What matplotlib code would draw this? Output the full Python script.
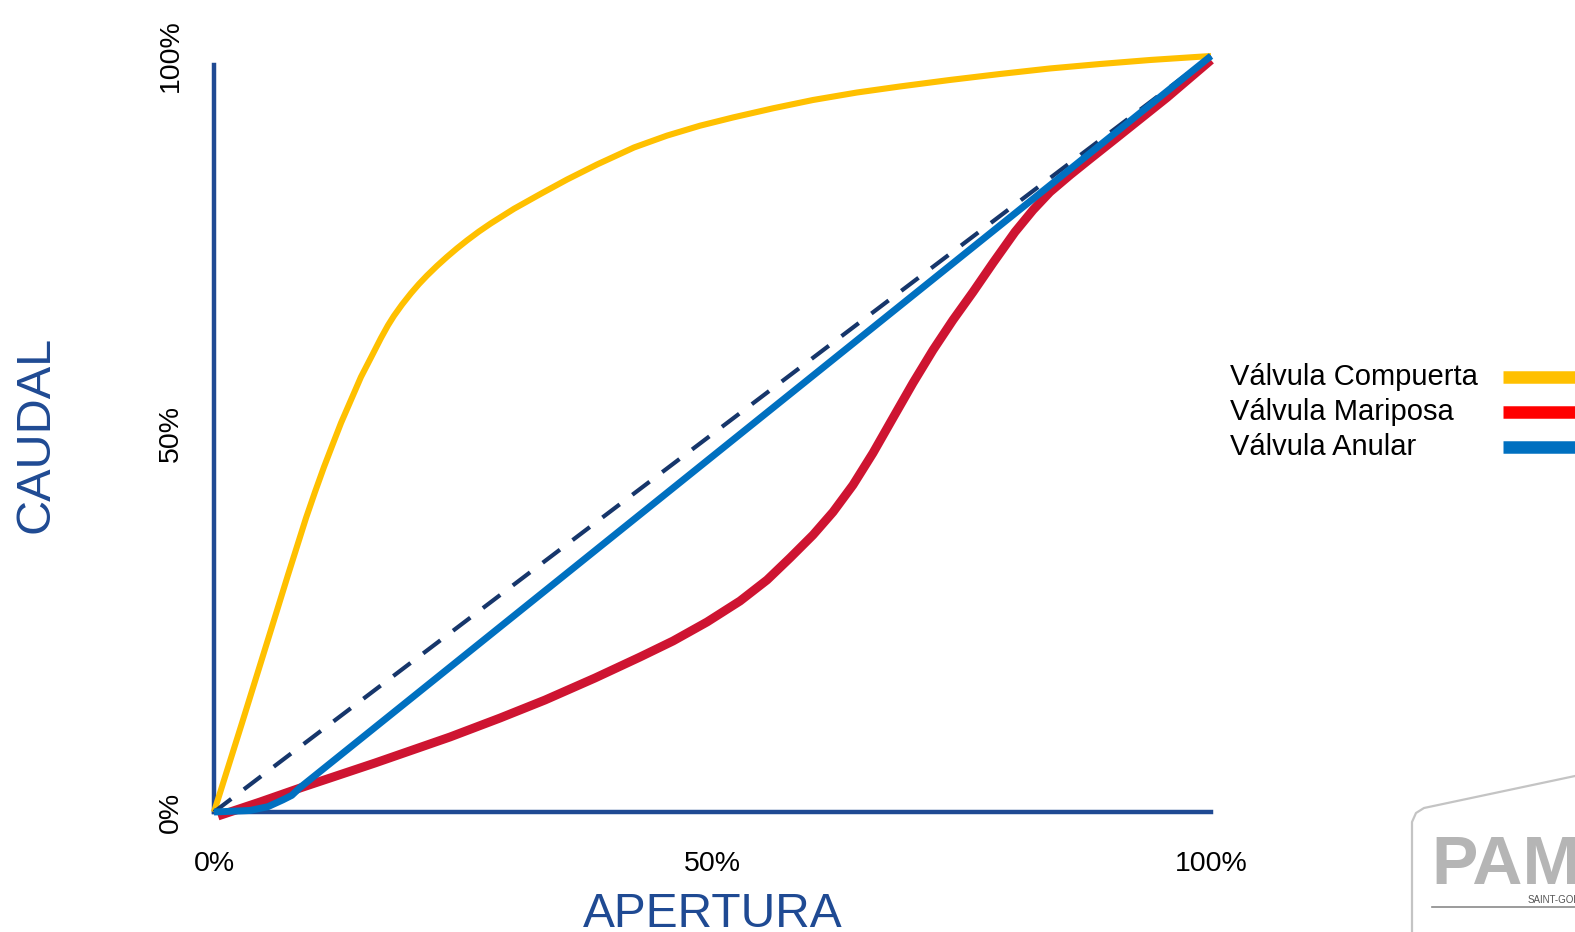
import matplotlib
matplotlib.use("Agg")
import matplotlib.pyplot as plt
from matplotlib.lines import Line2D

plt.rcParams["font.family"] = ["Liberation Sans", "DejaVu Sans"]

# Apertura (%) vs caudal (%) para cada tipo de válvula
compuerta_x = [0, 2.81, 5.62, 7.42, 9.23, 10.13, 11.03, 11.84, 12.74, 13.74, 14.74,
               15.75, 16.75, 17.45, 18.05, 18.86, 19.76, 20.56, 21.36, 22.37, 23.37,
               24.37, 25.38, 26.58, 27.78, 30.09, 32.80, 35.41, 38.42, 42.13, 45.44,
               48.75, 52.06, 56.07, 60.08, 64.49, 68.81, 73.82, 78.84, 83.85, 88.87,
               93.88, 100]
compuerta_y = [0, 11.77, 23.68, 31.35, 38.89, 42.33, 45.63, 48.41, 51.46, 54.50, 57.54,
               60.12, 62.70, 64.37, 65.63, 67.12, 68.62, 69.84, 70.95, 72.24, 73.43,
               74.55, 75.61, 76.79, 77.87, 79.79, 81.79, 83.66, 85.65, 87.90, 89.47,
               90.78, 91.87, 93.08, 94.18, 95.17, 95.97, 96.83, 97.62, 98.35, 98.94,
               99.47, 100]

mariposa_x = [0.40, 4.61, 8.63, 16.15, 23.67, 28.69, 33.20, 38.21, 42.73, 46.04, 49.45,
              52.76, 55.47, 57.77, 60.08, 62.09, 64.09, 66.10, 68.10, 70.11, 72.12,
              74.12, 76.13, 78.13, 80.34, 82.15, 83.85, 85.86, 87.86, 90.57, 95.59, 100]
mariposa_y = [-0.53, 1.32, 3.17, 6.48, 9.92, 12.43, 14.81, 17.72, 20.50, 22.62, 25.13,
              27.91, 30.69, 33.60, 36.64, 39.68, 43.25, 47.49, 52.12, 56.75, 61.11,
              65.08, 68.78, 72.62, 76.72, 79.63, 82.01, 84.26, 86.38, 89.22, 94.51, 99.47]

anular_x = [0, 3.6, 5.4, 6.9, 7.8, 8.6, 100]
anular_y = [0, 0.2, 0.7, 1.6, 2.2, 3.2, 100]

lineal_x = [0, 100]
lineal_y = [0, 100]

ticks = [0, 50, 100]
tick_labels = ["0%", "50%", "100%"]

series_names = ["Válvula Compuerta", "Válvula Mariposa", "Válvula Anular"]
legend_colors = ["#FFC000", "#FF0000", "#0070C0"]

axis_blue = "#1F4A93"
W, H = 1575, 932

fig = plt.figure(figsize=(15.75, 9.32), dpi=100)
ax = fig.add_axes([0.13587, 0.12876, 0.63302, 0.81116])

line_kw = dict(clip_on=False, solid_capstyle="butt", solid_joinstyle="round")
ax.plot(compuerta_x, compuerta_y, color="#FFC000", lw=4.4, zorder=3, **line_kw)
ax.plot(mariposa_x, mariposa_y, color="#CE1431", lw=6.4, zorder=3, **line_kw)
ax.plot(lineal_x, lineal_y, color="#16366B", lw=3.0, dashes=[5.2, 3.8],
        clip_on=False, zorder=4)
ax.plot(anular_x, anular_y, color="#0070C0", lw=5.0, zorder=5, **line_kw)

ax.set_xlim(0, 100)
ax.set_ylim(0, 100)

for side in ["top", "right"]:
    ax.spines[side].set_visible(False)
for side in ["left", "bottom"]:
    ax.spines[side].set_color(axis_blue)
    ax.spines[side].set_linewidth(3.2)
    ax.spines[side].set_zorder(2)
ax.spines["left"].set_bounds(0, 98.8)

ax.set_xticks(ticks)
ax.set_xticklabels(tick_labels)
ax.set_yticks(ticks)
ax.set_yticklabels(tick_labels, rotation=90, va="center")
ax.tick_params(axis="x", length=0, pad=28, labelsize=20.5)
ax.tick_params(axis="y", length=0, pad=22, labelsize=20.5)

ax.set_xlabel("APERTURA", fontsize=34.5, color=axis_blue, labelpad=11)
ax.set_ylabel("CAUDAL", fontsize=35, color=axis_blue, labelpad=71)

# leyenda: texto a la izquierda, muestra de color a la derecha
for i, (name, color) in enumerate(zip(series_names, legend_colors)):
    y = 1 - (377 + 35 * i) / H
    fig.text(1230 / W, y, name, fontsize=21, ha="left", va="center")
    fig.add_artist(Line2D([1503 / W, 1.02], [y, y], color=color, lw=9,
                          solid_capstyle="butt"))

# logotipo en la esquina inferior derecha
fig.add_artist(Line2D([1412 / W, 1412 / W, 1416 / W, 1424 / W, 1575 / W],
                      [0, 1 - 822 / H, 1 - 813 / H, 1 - 808 / H, 1 - 776 / H],
                      color="#C4C4C4", lw=1.6))
fig.text(1431 / W, 1 - 884 / H, "PAM", fontsize=50, fontweight="heavy",
         color="#B5B5B5", ha="left", va="baseline")
fig.add_artist(Line2D([1432 / W, 1575 / W], [1 - 907 / H, 1 - 907 / H],
                      color="#8A8A8A", lw=1.2))
fig.text(1528 / W, 1 - 903 / H, "SAINT-GOBAIN", fontsize=7, color="#555555",
         ha="left", va="baseline")

fig.savefig("out.png", dpi=100, facecolor="white")
